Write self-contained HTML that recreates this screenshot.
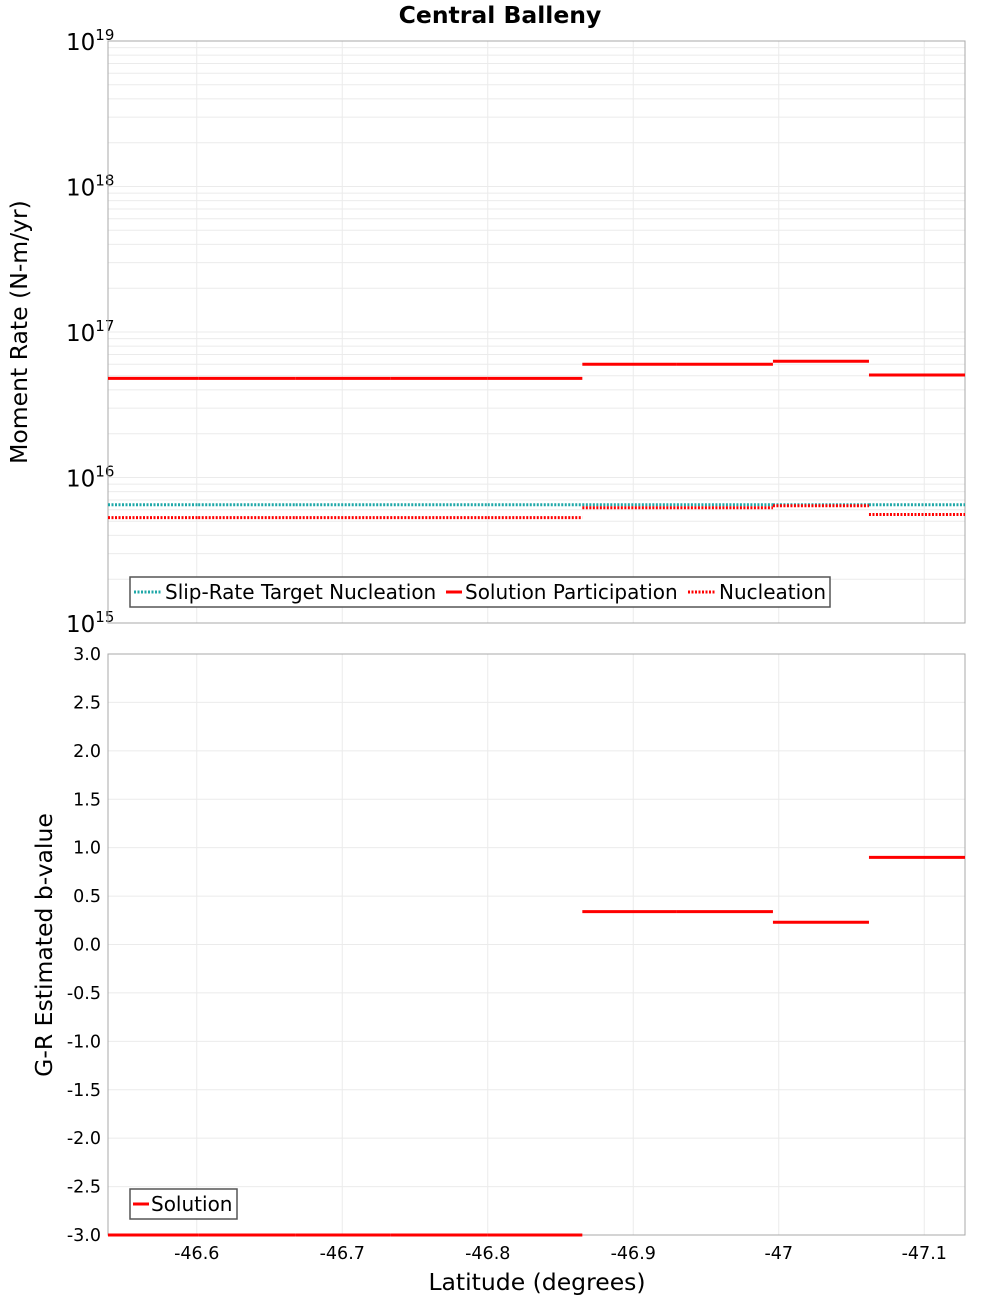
<!DOCTYPE html>
<html><head><meta charset="utf-8"><style>
body{margin:0;background:#fff;width:1000px;height:1300px;overflow:hidden;font-family:"DejaVu Sans","Liberation Sans",sans-serif}
</style></head><body>
<svg id="chart" width="1000" height="1300" xmlns="http://www.w3.org/2000/svg" font-family="DejaVu Sans, Liberation Sans, sans-serif" style="position:absolute;left:0;top:0">
<text x="500" y="23" text-anchor="middle" font-size="23.5" font-weight="bold">Central Balleny</text>
<g id="topPlot"></g><g id="botPlot"></g>
</svg>
<script>
const latBounds=[-46.539,-46.601,-46.668,-46.733,-46.800,-46.865,-46.930,-46.996,-47.062,-47.128];
const solutionParticipation=[4.8e16,4.8e16,4.8e16,4.8e16,4.8e16,6.0e16,6.0e16,6.3e16,5.06e16];
const targetNucleation=[6.5e15,6.5e15,6.5e15,6.5e15,6.5e15,6.5e15,6.5e15,6.5e15,6.5e15];
const nucleation=[5.3e15,5.3e15,5.3e15,5.3e15,5.3e15,6.2e15,6.2e15,6.4e15,5.57e15];
const bValues=[-3,-3,-3,-3,-3,0.34,0.34,0.23,0.9];
const xTicks=[-46.6,-46.7,-46.8,-46.9,-47,-47.1];
const xTickLabels=["-46.6","-46.7","-46.8","-46.9","-47","-47.1"];
const logDecades=[15,16,17,18,19];
const bTicks=[3,2.5,2,1.5,1,0.5,0,-0.5,-1,-1.5,-2,-2.5,-3];

const NS='http://www.w3.org/2000/svg';
const L=108,R=965;
const xs=v=>L+(v-(-46.539))/(-47.128-(-46.539))*(R-L);
const yTop=v=>623-(Math.log10(v)-15)/4*(623-41);
const yBot=v=>1235-(v+3)/6*(1235-654);
function el(p,t,a){const e=document.createElementNS(NS,t);for(const k in a)e.setAttribute(k,a[k]);p.appendChild(e);return e;}
const topG=document.getElementById('topPlot'),botG=document.getElementById('botPlot');

for(let d=15;d<19;d++)for(let m=1;m<10;m++){const y=yTop(m*Math.pow(10,d));
 const g=el(topG,'line',{x1:L,x2:R,y1:y,y2:y,stroke:'#ebebeb','stroke-width':1});
 
 }
xTicks.forEach(t=>{[topG,botG].forEach((p,i)=>{const g=el(p,'line',{x1:xs(t),x2:xs(t),y1:i?654:41,y2:i?1235:623,stroke:'#ebebeb'});
 
 });});
bTicks.forEach(t=>{const g=el(botG,'line',{x1:L,x2:R,y1:yBot(t),y2:yBot(t),stroke:'#ebebeb'});
 
 
 const tx=el(botG,'text',{x:101,y:yBot(t)+6,'text-anchor':'end','font-size':17.5});tx.textContent=t.toFixed(1);
 
 });
logDecades.forEach(d=>{const tx=el(topG,'text',{x:66,y:yTop(Math.pow(10,d))+9,'font-size':23});
 
 
 tx.textContent='10';const s=el(tx,'tspan',{dy:-10,'font-size':15});s.textContent=String(d);});
[[41,623],[654,1235]].forEach(([a,b],i)=>{const f=el(i?botG:topG,'rect',{x:L,y:a,width:R-L,height:b-a,fill:'none',stroke:'#a8a8a8'});
 
 });
xTicks.forEach((t,i)=>{const tx=el(botG,'text',{x:xs(t),y:1259,'text-anchor':'middle','font-size':17.5});tx.textContent=xTickLabels[i];
 
 });

function series(p,vals,yf,color,dash,name,w){for(let i=0;i<vals.length;i++){
 const a={x1:xs(latBounds[i]),x2:xs(latBounds[i+1]),y1:yf(vals[i]),y2:yf(vals[i]),stroke:color,'stroke-width':w};
 if(dash)a['stroke-dasharray']=dash;const l=el(p,'line',a);
 
 }}
series(topG,targetNucleation,yTop,'#1fa8a8','2,1.5','target-nucleation-segment',3);
series(topG,nucleation,yTop,'#ff0000','2,1.5','nucleation-segment',3);
series(topG,solutionParticipation,yTop,'#ff0000',null,'solution-participation-segment',3);
series(botG,bValues,yBot,'#ff0000',null,'b-value-segment',3);
</script>
<svg style="position:absolute;left:0;top:0" width="1000" height="1300" font-family="DejaVu Sans, Liberation Sans, sans-serif">
<g>
<rect x="130" y="577" width="700" height="30" fill="#fff" stroke="#555" stroke-width="1.5"/>
<line x1="134" x2="161" y1="592" y2="592" stroke="#1fa8a8" stroke-width="3" stroke-dasharray="2,1.5"/>
<text x="165" y="599" font-size="20">Slip-Rate Target Nucleation</text>
<line x1="446" x2="462" y1="592" y2="592" stroke="#ff0000" stroke-width="3"/>
<text x="465" y="599" font-size="20">Solution Participation</text>
<line x1="688" x2="716" y1="592" y2="592" stroke="#ff0000" stroke-width="3" stroke-dasharray="2,1.5"/>
<text x="719" y="599" font-size="20">Nucleation</text>
</g>
<g>
<rect x="130" y="1189" width="107" height="30" fill="#fff" stroke="#555" stroke-width="1.5"/>
<line x1="133" x2="149" y1="1204" y2="1204" stroke="#ff0000" stroke-width="3"/>
<text x="151" y="1211" font-size="20">Solution</text>
</g>
<text transform="translate(27,332) rotate(-90)" text-anchor="middle" font-size="23.5">Moment Rate (N-m/yr)</text>
<text transform="translate(52,945) rotate(-90)" text-anchor="middle" font-size="23.5">G-R Estimated b-value</text>
<text x="537" y="1290" text-anchor="middle" font-size="23.5">Latitude (degrees)</text>
</svg>
</body></html>
